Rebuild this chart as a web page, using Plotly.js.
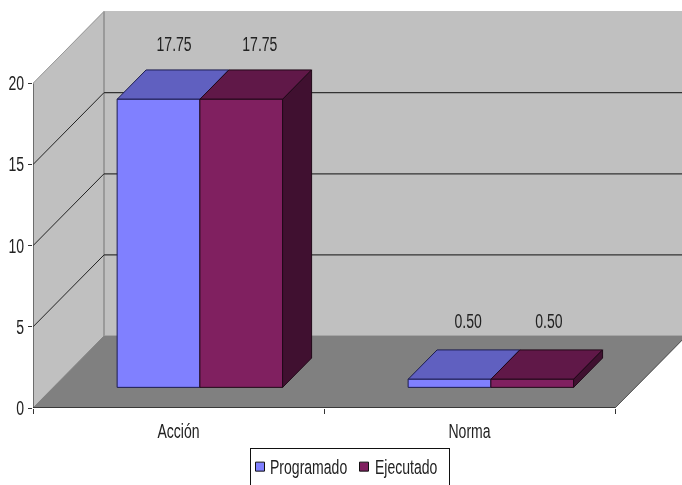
<!DOCTYPE html>
<html><head><meta charset="utf-8">
<script src="https://cdn.plot.ly/plotly-3.0.1.min.js"></script>
<style>html,body{margin:0;padding:0;background:#fff}#c{width:682px;height:485px;filter:blur(0.35px)}</style>
</head><body><div id="c"></div>
<script>
const categories = ['Acción', 'Norma'];
const programado = [17.75, 0.50];
const ejecutado = [17.75, 0.50];
const labelsProgramado = ['17.75', '0.50'];
const labelsEjecutado = ['17.75', '0.50'];
const yTicks = [0, 5, 10, 15, 20];
const gridValues = [5, 10, 15];

const W = 682, H = 485, ML = 33, MB = 76.5;
const PXX = 291, PXY = 16.25;          // px per category, px per value unit
const DX = 71 / PXX, DY = 72 / PXY;    // full chart depth in data units
const D0 = 0.287, D1 = 0.695;          // bar depth span
const BARW = 82.75 / PXX, SHIFT = 1 / PXX;
const LABEL_GAP = [24, 27];            // px above the bar's back edge, per category
const LABEL_DX = [[36, 39], [39, 37]]; // px right of the bar centre, per series and category
const LEGEND_SHIFT = [[-11, -21], [-6, -15]]; // px: [key, text] per legend entry
const P = (x, v, d) => [x + d * DX, v + d * DY];
const FONT = 'Liberation Sans, Arial, sans-serif';
const TXT = '#222222';
const FS = 19.5, NARROW = 0.72;

function poly(pts, fill, line, lw) {
  return {type:'scatter', mode:'lines', x:pts.map(p=>p[0]), y:pts.map(p=>p[1]),
    fill:'toself', fillcolor:fill, line:{color:line||fill, width:lw===undefined?1:lw},
    hoverinfo:'skip', showlegend:false};
}
function seg(a, b, color, w) {
  return {type:'scatter', mode:'lines', x:[a[0],b[0]], y:[a[1],b[1]],
    line:{color:color, width:w||1}, hoverinfo:'skip', showlegend:false};
}
const traces = [];
// walls and floor
traces.push(poly([P(0,0,1),P(2.4,0,1),P(2.4,20,1),P(0,20,1),P(0,0,1)], '#C0C0C0'));
traces.push(poly([P(0,0,0),P(0,0,1),P(0,20,1),P(0,20,0),P(0,0,0)], '#C0C0C0'));
traces.push(poly([P(0,0,0),P(2,0,0),P(2,0,1),P(2.4,0,1),P(0,0,1),P(0,0,0)], '#808080'));
traces.push(seg(P(0,20,0),P(0,20,1),'#999999',1));
traces.push(seg(P(0,0,1),P(0,20,1),'#9A9A9A',2));
gridValues.forEach(v=>{
  traces.push(seg(P(0,v,0),P(0,v,1),'#222222',1));
  traces.push(seg(P(0,v,1),P(2.4,v,1),'#333333',1.2));
});
traces.push(seg(P(2,0,0),P(2,0,1),'#555555',1));
// bars
const palette = [
  {front:'#8080FF', top:'#6060C0', side:'#40407F', edge:'#1C1C50'},
  {front:'#802060', top:'#601848', side:'#401030', edge:'#200818'}
];
[programado, ejecutado].forEach((vals, s)=>{
  vals.forEach((v, i)=>{
    const c = palette[s], x0 = i + 0.5 + (s-1)*BARW + SHIFT, x1 = x0 + BARW;
    traces.push(poly([P(x0,v,D0),P(x1,v,D0),P(x1,v,D1),P(x0,v,D1),P(x0,v,D0)], c.top, c.edge));
    traces.push(poly([P(x0,0,D0),P(x1,0,D0),P(x1,v,D0),P(x0,v,D0),P(x0,0,D0)], c.front, c.edge));
  });
});
ejecutado.forEach((v,i)=>{
  const x1 = i + 0.5 + BARW + SHIFT, c = palette[1];
  traces.push(poly([P(x1,0,D0),P(x1,0,D1),P(x1,v,D1),P(x1,v,D0),P(x1,0,D0)], c.side, c.edge));
});
// axis lines
traces.push(seg([0,0],[0,20],'#333333',1.2));
traces.push(seg([0,0],[2,0],'#222222',1.5));
// data labels
[[programado,labelsProgramado,0],[ejecutado,labelsEjecutado,1]].forEach(([vals,labs,s])=>{
  const px = vals.map((v,i)=>i + 0.5 + (s-1)*BARW + BARW/2 + SHIFT + LABEL_DX[s][i]/PXX);
  const py = vals.map((v,i)=>v + D1*DY + LABEL_GAP[i]/PXY);
  traces.push({type:'scatter', mode:'text', x:px, y:py, text:labs, textposition:'middle center',
    textfont:{family:FONT,size:FS,color:TXT}, cliponaxis:false, hoverinfo:'skip', showlegend:false});
});
// legend keys: points lie off the visible range
[['Programado',palette[0]],['Ejecutado',palette[1]]].forEach(([n,c])=>{
  traces.push({type:'scatter', mode:'markers', name:n, x:[-1], y:[-1],
    marker:{symbol:'square', size:9, color:c.front, line:{color:'#111111',width:1}}, hoverinfo:'skip'});
});

const layout = {
  width:W, height:H, paper_bgcolor:'#FFFFFF', plot_bgcolor:'#FFFFFF',
  margin:{l:ML, r:0, t:0, b:MB, pad:0, autoexpand:false},
  font:{family:FONT, size:FS, color:TXT},
  showlegend:true,
  legend:{orientation:'h', x:(250-ML)/(W-ML), xanchor:'left', y:-(449-(H-MB))/(H-MB), yanchor:'top',
    bordercolor:'#111111', borderwidth:1, bgcolor:'#FFFFFF', font:{family:FONT,size:FS,color:TXT},
    itemwidth:30, entrywidth:54, entrywidthmode:'pixels', traceorder:'normal'},
  xaxis:{range:[0,(W-ML)/PXX], showgrid:false, zeroline:false, showline:false,
    tickmode:'array', tickvals:[0.5,1.5], ticktext:categories, ticks:'',
    ticklabelstandoff:10, tickfont:{family:FONT,size:FS,color:TXT},
    minor:{tickmode:'array', tickvals:[0,1,2], ticks:'outside', ticklen:5, tickcolor:'#333333', tickwidth:1, showgrid:false}},
  yaxis:{range:[0,(H-MB)/PXY], showgrid:false, zeroline:false, showline:false,
    tickmode:'array', tickvals:yTicks, ticks:'outside', ticklen:4, tickcolor:'#333333', tickwidth:1,
    tickfont:{family:FONT,size:FS,color:TXT}}
};
function tweakLegend(gd){
  gd.querySelectorAll('.legend .traces').forEach((g,i)=>{
    const [dk, dt] = LEGEND_SHIFT[i];
    const pts = g.querySelector('.legendpoints');
    if(pts) pts.setAttribute('transform', `translate(${dk} -2)`);
    const t = g.querySelector('text.legendtext');
    if(t){
      t.setAttribute('x', (parseFloat(t.getAttribute('x'))||0) + dt);
      t.setAttribute('y', (parseFloat(t.getAttribute('y'))||0) - 2);
    }
  });
}
// The reference uses a condensed face; none is installed, so squeeze real text horizontally.
function squeeze(gd){
  gd.querySelectorAll('svg text').forEach(t=>{
    const x = parseFloat(t.getAttribute('x'))||0, y = parseFloat(t.getAttribute('y'))||0;
    const prev = t.getAttribute('transform')||'';
    t.setAttribute('transform', `${prev} translate(${x} ${y}) scale(${NARROW} 1) translate(${-x} ${-y})`);
  });
}
Plotly.newPlot('c', traces, layout, {staticPlot:true, displayModeBar:false}).then(gd=>{tweakLegend(gd);squeeze(gd);});
</script></body></html>
